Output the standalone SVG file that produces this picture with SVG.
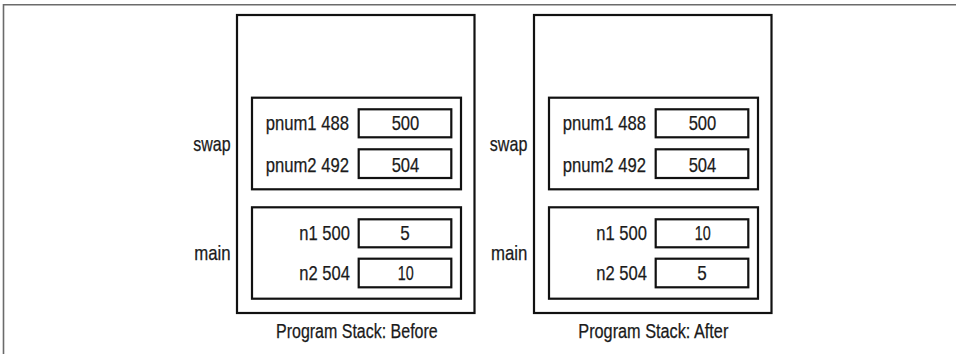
<svg xmlns="http://www.w3.org/2000/svg" width="956" height="354" viewBox="0 0 956 354">
<style>
.frame{fill:none;stroke:#6b6b6b;stroke-width:1.6}
.box{fill:none;stroke:#111;stroke-width:2.2}
text{font-family:"Liberation Sans",Arial,sans-serif;font-size:21px;fill:#1a1a1a;stroke:#1a1a1a;stroke-width:0.25}
.m{text-anchor:middle}
.t{font-size:19.5px}
</style>
<path class="frame" d="M3.5,354 V4.8 H956"/>
<g id="before">
  <rect class="box" x="237" y="15" width="237.5" height="298"/>
  <text x="193.3" y="151" textLength="37.3" lengthAdjust="spacingAndGlyphs">swap</text>
  <text x="194.3" y="259.5" textLength="36.4" lengthAdjust="spacingAndGlyphs">main</text>
  <g id="before-swap">
    <rect class="box" x="252" y="97.7" width="209" height="91.6"/>
    <text x="265.7" y="129.5" textLength="83.3" lengthAdjust="spacingAndGlyphs">pnum1 488</text>
    <rect class="box" x="358.7" y="109.3" width="92.6" height="28"/>
    <text class="m" x="405.5" y="129.5" textLength="27.7" lengthAdjust="spacingAndGlyphs">500</text>
    <text x="265.7" y="171.5" textLength="83.3" lengthAdjust="spacingAndGlyphs">pnum2 492</text>
    <rect class="box" x="358.7" y="149.3" width="92.6" height="28.7"/>
    <text class="m" x="405.5" y="171.5" textLength="27.7" lengthAdjust="spacingAndGlyphs">504</text>
  </g>
  <g id="before-main">
    <rect class="box" x="252" y="207.3" width="209" height="91.4"/>
    <text x="299.3" y="240" textLength="50.7" lengthAdjust="spacingAndGlyphs">n1 500</text>
    <rect class="box" x="358.7" y="219.3" width="92.6" height="28"/>
    <text class="m" x="405" y="240" textLength="9.5" lengthAdjust="spacingAndGlyphs">5</text>
    <text x="299.3" y="280" textLength="50.7" lengthAdjust="spacingAndGlyphs">n2 504</text>
    <rect class="box" x="358.7" y="258.7" width="92.6" height="28.6"/>
    <text class="m" x="405.7" y="280" textLength="16" lengthAdjust="spacingAndGlyphs">10</text>
  </g>
  <text class="t" x="276" y="337.5" textLength="161.7" lengthAdjust="spacingAndGlyphs">Program Stack: Before</text>
</g>
<g id="after">
  <rect class="box" x="534" y="15" width="237.5" height="298"/>
  <text x="489.8" y="151" textLength="37.6" lengthAdjust="spacingAndGlyphs">swap</text>
  <text x="491" y="259.5" textLength="36.4" lengthAdjust="spacingAndGlyphs">main</text>
  <g id="after-swap">
    <rect class="box" x="549" y="97.7" width="209" height="91.6"/>
    <text x="562.7" y="129.5" textLength="83.3" lengthAdjust="spacingAndGlyphs">pnum1 488</text>
    <rect class="box" x="655.7" y="109.3" width="92.6" height="28"/>
    <text class="m" x="702.5" y="129.5" textLength="27.7" lengthAdjust="spacingAndGlyphs">500</text>
    <text x="562.7" y="171.5" textLength="83.3" lengthAdjust="spacingAndGlyphs">pnum2 492</text>
    <rect class="box" x="655.7" y="149.3" width="92.6" height="28.7"/>
    <text class="m" x="702.5" y="171.5" textLength="27.7" lengthAdjust="spacingAndGlyphs">504</text>
  </g>
  <g id="after-main">
    <rect class="box" x="549" y="207.3" width="209" height="91.4"/>
    <text x="596.3" y="240" textLength="50.7" lengthAdjust="spacingAndGlyphs">n1 500</text>
    <rect class="box" x="655.7" y="219.3" width="92.6" height="28"/>
    <text class="m" x="702.7" y="240" textLength="16" lengthAdjust="spacingAndGlyphs">10</text>
    <text x="596.3" y="280" textLength="50.7" lengthAdjust="spacingAndGlyphs">n2 504</text>
    <rect class="box" x="655.7" y="258.7" width="92.6" height="28.6"/>
    <text class="m" x="702" y="280" textLength="9.5" lengthAdjust="spacingAndGlyphs">5</text>
  </g>
  <text class="t" x="578.3" y="337.5" textLength="150" lengthAdjust="spacingAndGlyphs">Program Stack: After</text>
</g>
</svg>
